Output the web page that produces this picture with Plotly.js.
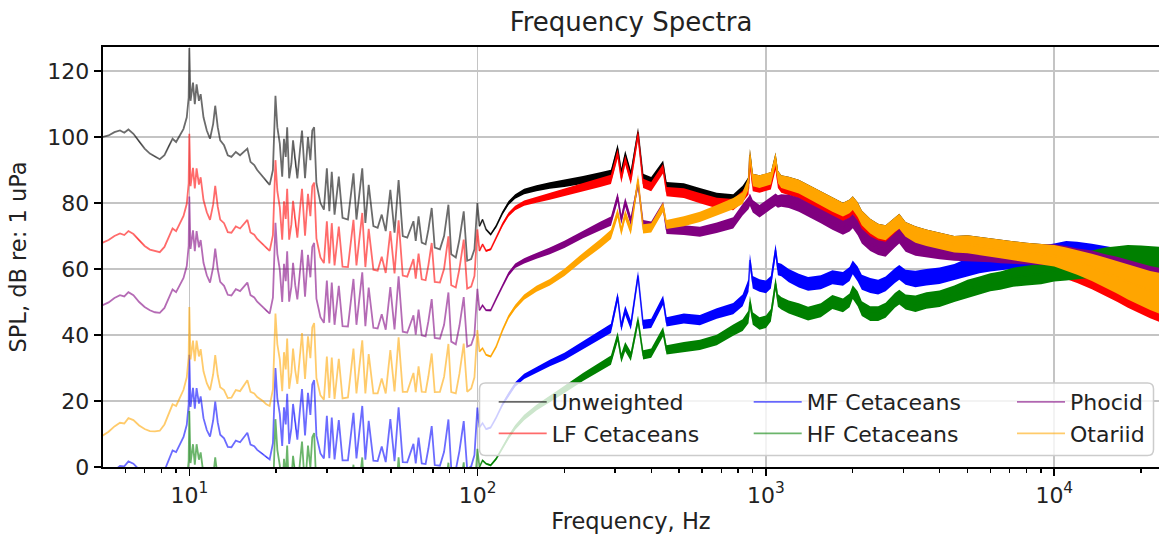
<!DOCTYPE html>
<html><head><meta charset="utf-8">
<script src="https://cdn.plot.ly/plotly-3.0.1.min.js"></script>
<style>html,body{margin:0;padding:0;background:#fff;} #chart{width:1159px;height:542px;}</style>
</head><body><div id="chart"></div>
<script>
// Frequency grid (Hz)
const freqHz = [
5.0,5.25,5.5,5.75,5.95,6.15,6.4,6.7,7.0,7.3,7.6,7.9,8.2,8.5,8.75,9.0,9.3,9.55,9.8,9.95,
10.0,10.1,10.3,10.45,10.6,10.8,10.95,11.2,11.5,11.8,12.1,12.3,12.55,12.8,13.2,13.6,14.0,14.5,15.0,15.5,
15.9,16.3,16.8,17.2,17.6,18.0,18.5,19.0,19.5,19.9,20.2,20.6,21.0,21.3,21.6,21.85,22.2,22.6,22.9,23.3,
23.7,24.2,24.6,25.2,25.8,26.3,26.7,27.1,27.6,28.5,29.3,30.0,30.6,31.2,31.9,33.0,34.0,35.5,37.1,38.0,
39.8,40.8,41.9,43.5,45.0,46.5,48.0,49.8,51.5,53.2,55.0,57.0,59.9,61.0,62.4,64.0,66.0,67.5,69.3,71.0,
74.0,76.5,79.2,81.0,84.0,86.5,89.5,92.0,95.0,97.5,99.8,
101.5,104,107,111,116,122,128,135,145,160,178,200,232,266,290,306,315,325,340,360,
375,400,440,452,519,590,675,770,830,870,880,900,950,1000,1040,1080,1100,1130,
1200,1300,1400,1550,1700,1850,1950,2000,2080,2150,2300,2450,2600,2800,2900,3050,3300,3600,4000,4500,
5000,5500,6000,6500,7200,8000,9000,10000,11000,12000,13500,15000,16500,18000,20000,21500,23500
];

// SPL, dB re 1 uPa
const unweighted = [
100,100.5,101.5,102,101.3,102.3,101,98.5,96.5,95, 94,93.3,94.5,97.5,99.5,98.5,100.5,102.5,106,112,
127,111,116.5,110,116,111,113,106,102,99.5, 104,109.5,103,99,97.5,94.5,94,95.5,94.5,95.5,
96.5,92.5,91.5,90,89,88,86.5,85.5,90,112.5, 103,98,88,99.5,94,103,87.5,92,99,92,
87.5,96,102,87.5,100,93,102,103,86,80, 78,90.5,77.5,89.5,76.5,88,75.5,75,89,75,
90.5,74,85.5,73,72.5,76.5,71.5,84,71,87, 70,69.5,74.5,68.5,76,68,67.5,72,78.5,66.5,
66,70,79.5,64.5,63.5,69,77.5,62.5,63,66,80,
73,75,72,70.5,73,77,80,82,83.5,84.5,85.3,86,87,88,88.7,96.5,89,94.5,88.5,101.5,
87.5,86.5,91.5,85,84.5,83,81.5,81,83.5,86,94.5,87,86.5,87,87.5,93.4,88,86.5,
86,85,83.5,81.5,79.5,78,79,80,78,75.5,73,71.5,71,73.5,74.5,72,70.5,69.5,68.5,67.5,
67.5,67,66.5,66,65.5,65,64.5,64,63,62,60.5,59,57.5,56,54.5,53.5,52.5
];
const lfCetaceans = [
68,68.8,70,70.8,70.3,71.5,70.6,68.6,67,65.9, 65.4,65.1,66.7,70,72.3,71.5,73.8,76.1,79.8,86,
101,85.1,90.7,84.4,90.5,85.6,87.8,80.9,77.2,74.9, 79.6,85.2,78.9,75,73.9,71.2,71,72.9,72.3,73.6,
74.9,71.1,70.4,69.1,68.3,67.5,66.3,65.5,70.3,93, 83.6,78.8,68.9,80.5,75.2,84.3,68.9,73.6,80.7,73.9,
69.5,78.2,84.3,70.1,82.8,76,85.1,86.2,69.3,63.5, 61.8,74.5,61.7,73.9,61.1,72.9,60.7,60.6,74.9,61.1,
77,60.6,72.2,59.8,59.5,63.7,58.8,71.5,58.7,74.8, 58,57.7,63,57.1,64.7,56.9,56.6,61.2,67.9,56.1,
55.9,60.1,69.9,55.1,54.4,60.1,68.9,54.1,54.7,57.9,72,
65.5,67.5,65.5,66,69.5,73.5,76.5,78.5,80,81,82,83.3,84.7,86.2,87.2,95,87.5,93,87,100.8,
86,85,90.4,83.5,83,81.5,80,79.5,82,84.5,93,85.5,85,85.5,86,92,86.5,85,
84.5,83.5,82,80,78,76.5,77.5,78.5,76.5,74,71.5,70,69.5,72,73,70.5,69,68,67,66,
66,65.5,65,64.5,63.8,63,62.3,61.5,60.5,59.5,58,56.5,55,53.5,52,51,50
];
const mfCetaceans = [
-4,-2.7,-1,0.3,0.2,1.7,1,-0.8,-2,-2.7, -3,-2.9,-1.1,2.5,5,4.5,6.8,9.1,12.8,19,
34,18.2,24,17.7,23.9,19.2,21.4,14.8,11.2,9.2, 14.1,19.8,13.5,9.8,8.7,6.1,6,8,7.5,9,
10.4,6.8,6.3,5.2,4.5,4,2.9,2.3,7.2,30, 20.7,16.1,6.4,18.1,12.9,22.2,7,11.8,19.1,12.5,
8.3,17.3,23.6,9.6,22.5,15.8,25,26.3,9.5,4.1, 2.6,15.5,2.7,15,2.3,14.2,2,2,16.4,2.6,
18.5,2.2,14,1.9,1.8,6.2,1.5,14.5,1.8,18.1, 1.5,1.4,7,1.1,8.9,1.1,0.9,5.6,12.4,0.6,
0.4,4.6,14.4,-0.4,-0.9,4.9,13.9,-0.7,0.2,3.6,18,
12,13.3,11.5,12,15,19,22,25,27.5,29.5,31.5,33.5,37,40,42,51.6,42.5,47.5,43,58,
43.2,43.5,50.6,44,45,44.5,46.5,48,50.5,55,62.7,56,55,54.6,56,65.7,60,59.7,
58,56.5,55.5,56,57.5,57,58.5,60.5,58.5,56,55,54.5,55.5,58,59,57.5,57,57.5,58,59,
60.5,61.5,62,62.5,63,63.5,64,64.5,65,64.5,63.5,62.5,61.5,60.5,59.5,59,58.5
];
const hfCetaceans = [
-25,-23.7,-22,-20.7,-20.8,-19.2,-19.8,-21.4,-22.5,-23.1, -23.2,-23,-20.7,-16.5,-13.5,-13.5,-10.9,-8.4,-4.4,1.9,
17,1.2,6.9,0.7,6.9,2.2,4.4,-2.2,-5.8,-7.8, -2.9,2.9,-3.2,-6.8,-7.7,-10.1,-10,-8,-8.5,-7,
-5.6,-9.2,-9.7,-10.8,-11.5,-12,-13,-13.5,-8.5,14.5, 5.2,0.5,-9.2,2.5,-2.7,6.5,-8.7,-3.9,3.4,-3.3,
-7.5,1.4,7.7,-6.4,6.5,-0.2,9,10.3,-6.5,-11.9, -13.4,-0.5,-13.3,-1,-13.7,-1.8,-13.9,-13.9,0.7,-13.1,
2.9,-13.3,-1.5,-13.6,-13.7,-9.3,-14,-1,-13.6,2.9, -13.5,-13.4,-7.5,-13.3,-5.5,-13.2,-13.3,-8.5,-1.6,-13.3,
-13.2,-8.7,1.3,-13.3,-13.7,-7.7,1.4,-13.2,-12.2,-8.9,5.5,
0,2,1,0.5,2.5,6,9,12,15,18,20.5,23.5,27.3,30.5,32.4,39.5,33,36.5,33.5,44.5,
34,34.5,41,35.5,36.4,37,38.5,41.5,43,45.5,50,45,43.5,44,46,55.6,50.5,49.6,
48.5,47.5,46.5,47.5,50,49,50.5,53,51,48,46.5,46.5,47.5,50.5,51.5,50,49.5,50.5,51,52.5,
54,55,56,56.5,57.5,58,58.5,59.5,60,60.5,61.5,62,62,62,61.5,61,60.5
];
const phocid = [
49,49.9,51.2,52.1,51.7,53,52.1,50,48.5,47.5, 46.9,46.7,48.2,51.5,53.8,53,55.2,57.3,60.9,67,
82,66.1,71.7,65.4,71.5,66.6,68.8,61.9,58.1,55.9, 60.6,66.2,59.9,56.1,54.9,52.2,52,53.9,53.3,54.6,
55.9,52.1,51.4,50.1,49.3,48.5,47.3,46.5,51.3,74, 64.6,59.8,50,61.6,56.3,65.4,50.1,54.7,61.9,55.1,
50.8,59.6,65.8,51.6,64.3,57.5,66.7,67.9,51,45.4, 43.7,56.5,43.7,55.9,43.1,54.9,42.7,42.6,57,43.1,
59,42.7,54.4,42.2,42,46.3,41.6,54.5,41.7,57.8, 41,40.7,46,40.1,47.7,39.9,39.6,44.2,50.9,39.1,
38.9,43.1,52.9,38,37.2,42.8,51.5,36.5,37,40,54,
47.5,49,47.5,47.5,51,55,58.5,61,62.5,64,65.5,67.5,70.5,73,74.5,81.8,75,80.3,74.5,86,
73.5,73,79,72,71.8,71.3,72.5,74,78,80,81,79,77.5,79,80,81,80.5,80.8,
80.5,79.5,78,76,74,72.5,73.5,74.5,72.5,70,67.7,66.5,66,68.8,70,67.5,66.5,66,65.5,65,
65,65,64.8,64.5,64.5,64.5,64.3,64.3,63.5,62.5,61.5,60,58.8,57.5,56,55,54
];
const otariid = [
9.5,10.7,12.3,13.4,13.2,14.8,14.2,12.6,11.5,10.9, 10.8,11,12.9,16.5,19,18.5,21,23.4,27.2,33.4,
48.5,32.6,38.3,32.1,38.3,33.5,35.7,29,25.4,23.3, 28.1,33.9,27.8,24.2,23.3,20.9,21,23.3,23,24.7,
26.3,22.8,22.3,21.2,20.6,20,19,18.5,23.5,46.5, 37.2,32.6,23,34.8,29.6,38.9,23.7,28.6,35.9,29.3,
25.2,34.2,40.6,26.7,39.6,33,42.3,43.6,27,21.7, 20.4,33.5,20.9,33.2,20.6,32.8,20.8,21.1,35.9,22.3,
38.4,22.3,34.2,22.3,22.3,26.8,22.3,35.4,22.9,39.3, 22.8,22.8,28.5,22.7,30.5,22.8,22.7,27.5,34.4,22.7,
22.8,27.3,37.3,22.7,22.3,28.3,37.4,22.8,23.8,27.2,41.5,
35,36,34,33.5,36.5,41.5,45.5,48.5,51.5,54,56,59,63.7,67.7,70.5,77,71.5,76.5,71.8,87.3,
72.2,72.5,78.8,73.5,74.5,75.8,77.8,79.8,81.5,86,94.5,87,86.5,87,87.5,93.4,88,86.5,
86,85,83.5,81.5,79.5,78,79,80,78,75.5,73,71.5,71,73.5,74.5,72,70.5,69.5,68.5,67.5,
67.5,67,66.5,66,65.5,65,64.5,64,63,62,60.5,59,57.5,56,54.5,53.5,52.5
];
// Spread (dB) of the dense noisy spectrum above 100 Hz, for the grid points from 101.5 Hz on
const noiseSpreadAbove100Hz = [
0.5,0.5,0.5,0.6,0.8,1,1.2,1.4,1.6,1.8,2,2.2,2.4,2.6,2.8,2.8,2.8,2.8,2.8,2.8,
2.8,2.8,2.8,2.8,3,3.1,3.2,3.4,3.5,3.8,3.8,3.8,3.8,3.8,3.8,3.8,3.8,3.8,
4,4.2,4.2,4.2,4.2,4.2,4.2,4.2,4.5,4.5,4.5,4.5,4.5,4.5,4.5,4.5,5,5,5,5,
5.5,5.5,5.5,5.5,5.8,6,6.2,6.5,7,7.5,8.3,9,9.8,10.5,11.2,11.8,12.5
];

// x tick labels
const xTickValues = [10, 100, 1000, 10000];
const xTickLabels = ['10<sup>1</sup>', '10<sup>2</sup>', '10<sup>3</sup>', '10<sup>4</sup>'];

const seriesNames = ['Unweighted','LF Cetaceans','MF Cetaceans','HF Cetaceans','Phocid','Otariid'];
const seriesValues = [unweighted, lfCetaceans, mfCetaceans, hfCetaceans, phocid, otariid];
const seriesRGB = [[0,0,0],[255,0,0],[0,0,255],[0,128,0],[128,0,128],[255,165,0]];
const seriesLegend = ['legend','legend','legend2','legend2','legend3','legend3'];

const FONT = 'DejaVu Sans, Verdana, sans-serif';
const lowCount = freqHz.length - noiseSpreadAbove100Hz.length;
const spread = freqHz.map((f, i) => i < lowCount ? 0 : noiseSpreadAbove100Hz[i - lowCount]);

// minor tick positions 2..9 x each decade
const minorTicks = [];
[1, 10, 100, 1000, 10000].forEach(d => { for (let m = 2; m <= 9; m++) minorTicks.push(m * d); });

const traces = [];
seriesValues.forEach((vals, k) => {
  const c = seriesRGB[k];
  const solid = `rgb(${c[0]},${c[1]},${c[2]})`;
  const up = vals.map((v, i) => v + spread[i] / 2);
  const lo = vals.map((v, i) => v - spread[i] / 2);
  traces.push({
    type: 'scatter', mode: 'lines',
    x: freqHz.concat(freqHz.slice().reverse()),
    y: up.concat(lo.slice().reverse()),
    fill: 'toself', fillcolor: solid,
    line: {width: 0, color: solid},
    showlegend: false, hoverinfo: 'skip'
  });
  traces.push({
    type: 'scatter', mode: 'lines',
    x: freqHz, y: vals, name: seriesNames[k],
    legend: seriesLegend[k],
    line: {color: `rgba(${c[0]},${c[1]},${c[2]},0.58)`, width: 1.8}
  });
});

// plot area in pixels: x 103..1159, y 46.7..467
const PL = 103, PR = 1159, PT = 46.7, PB = 467;
const px = v => (v - PL) / (PR - PL);
const py = v => (PB - v) / (PB - PT);
const bx0 = px(479.5), bx1 = px(1153.5), by0 = py(455.5), by1 = py(383);
const rx = 6 / (PR - PL), ry = 6 / (PB - PT);
const framePath = `M ${bx0+rx},${by0} L ${bx1-rx},${by0} Q ${bx1},${by0} ${bx1},${by0+ry} L ${bx1},${by1-ry} Q ${bx1},${by1} ${bx1-rx},${by1} L ${bx0+rx},${by1} Q ${bx0},${by1} ${bx0},${by1-ry} L ${bx0},${by0+ry} Q ${bx0},${by0} ${bx0+rx},${by0} Z`;

const legendCommon = {
  bgcolor: 'rgba(0,0,0,0)', borderwidth: 0, orientation: 'v',
  xanchor: 'left', yanchor: 'top', itemwidth: 48, tracegroupgap: 0,
  font: {family: FONT, size: 22, color: '#222'}
};

const layout = {
  width: 1159, height: 542,
  margin: {l: PL, r: 0, t: PT, b: 542 - PB},
  paper_bgcolor: '#fff', plot_bgcolor: '#fff',
  font: {family: FONT, size: 22, color: '#222'},
  title: {text: 'Frequency Spectra', x: 0.5, xref: 'paper', xanchor: 'center',
          y: 1 - 22 / 542, yanchor: 'middle', font: {family: FONT, size: 26, color: '#222'}},
  xaxis: {
    type: 'log', range: [0.7007, 4.3632],
    tickmode: 'array', tickvals: xTickValues, ticktext: xTickLabels,
    ticks: 'outside', ticklen: 7.5, tickwidth: 1.6, tickcolor: '#000',
    minor: {tickmode: 'array', tickvals: minorTicks, ticks: 'outside', ticklen: 4.5, tickwidth: 1.4, tickcolor: '#000', showgrid: false},
    showgrid: true, gridcolor: '#c4c4c4', gridwidth: 1.6,
    showline: true, linecolor: '#000', linewidth: 1.8, mirror: true, zeroline: false,
    tickfont: {family: FONT, size: 22, color: '#222'},
    title: {text: 'Frequency, Hz', font: {family: FONT, size: 22.5, color: '#222'}, standoff: 6}
  },
  yaxis: {
    range: [0, 127.3], dtick: 20, tick0: 0,
    ticks: 'outside', ticklen: 7.5, tickwidth: 1.6, tickcolor: '#000',
    showgrid: true, gridcolor: '#c4c4c4', gridwidth: 1.6,
    showline: true, linecolor: '#000', linewidth: 1.8, zeroline: false,
    tickfont: {family: FONT, size: 22, color: '#222'},
    title: {text: 'SPL, dB re: 1 uPa', font: {family: FONT, size: 22.5, color: '#222'}, standoff: 14}
  },
  legend: Object.assign({}, legendCommon, {x: px(493.7), y: py(381)}),
  legend2: Object.assign({}, legendCommon, {x: px(748.7), y: py(381)}),
  legend3: Object.assign({}, legendCommon, {x: px(1012), y: py(381)}),
  shapes: [{type: 'path', xref: 'paper', yref: 'paper', path: framePath, layer: 'above',
            fillcolor: 'rgba(255,255,255,0.8)', line: {color: '#cccccc', width: 1.5}}],
  showlegend: true
};

Plotly.newPlot('chart', traces, layout, {displayModeBar: false, staticPlot: true});
</script></body></html>
